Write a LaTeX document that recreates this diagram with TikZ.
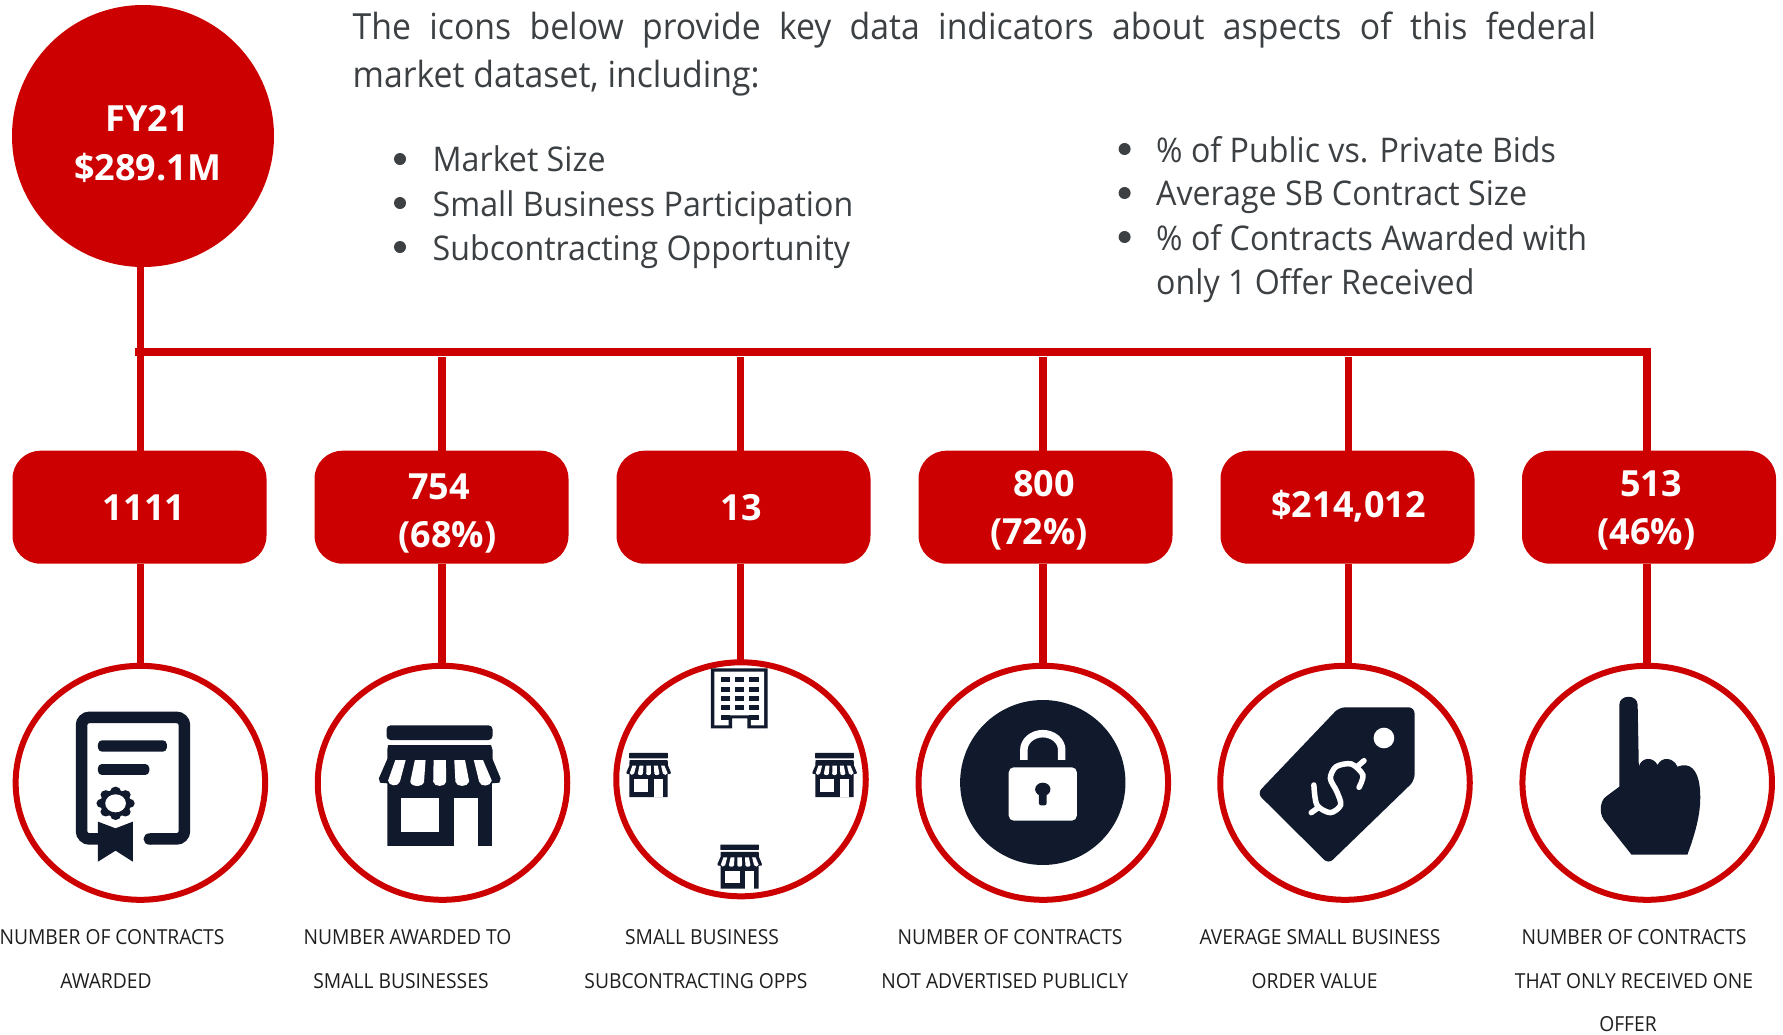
\documentclass[tikz,border=0pt]{standalone}
\usepackage{fontspec}
\setmainfont{Open Sans}
\newfontfamily\capfont[FakeStretch=0.93]{Open Sans}
\newfontfamily\bodyfont[FakeStretch=0.946]{Open Sans}
\newfontfamily\headfont[FakeStretch=0.938]{Open Sans}
\newfontfamily\numfont[FakeStretch=1.0]{Open Sans Bold}
\usetikzlibrary{shapes.geometric}
\definecolor{brandred}{HTML}{CC0000}
\definecolor{ink}{HTML}{111A2C}
\definecolor{bodytext}{HTML}{3C4043}
\definecolor{captext}{HTML}{1E1E1E}
\tikzset{
  conn/.style={draw=brandred,line width=7.5pt},
  bigcircle/.style={circle,fill=brandred,minimum size=262pt,inner sep=0pt,outer sep=0pt},
  valuebox/.style={rectangle,rounded corners=28pt,fill=brandred,minimum width=254pt,minimum height=113pt,inner sep=0pt,outer sep=0pt},
  iconring/.style={ellipse,draw=brandred,fill=white,line width=6pt,minimum width=249.5pt,minimum height=234pt,inner sep=0pt,outer sep=0pt},
  numtext/.style={anchor=base,text=white,font=\numfont\fontsize{36}{42}\selectfont,inner sep=0pt},
  captext/.style={anchor=base,text=captext,font=\capfont\fontsize{20.7}{24}\selectfont,inner sep=0pt},
  listtext/.style={anchor=base west,text=bodytext,font=\bodyfont\fontsize{34}{40}\selectfont,inner sep=0pt},
  headtext/.style={anchor=base west,text=bodytext,font=\headfont\fontsize{36}{42}\selectfont,inner sep=0pt},
  bulletdot/.style={circle,fill=bodytext,minimum size=12pt,inner sep=0pt,outer sep=0pt},
  zoomcrop/.style={shift={(#1,650)},xscale=0.3827,yscale=0.3333}
}
\newcommand{\storeicon}[4]{%
  \begin{scope}[shift={(#1,#2)},xscale=#3,yscale=#3,shift={(-1149,-407)}]
    \fill[ink,rounded corners=#4] (1010,226) rectangle (1287,270);
    \fill[ink] (1014,285) -- (1283,285) -- (1287,300) -- (1287,327) -- (1308,385) -- (1305,398) -- (1285,400) -- (1285,588) -- (1012,588) -- (1012,400) -- (993,398) -- (990,385) -- (1012,327) -- (1012,300) -- cycle;
    \fill[white] (1033,330) -- (1060,330) -- (1045,395) .. controls (1040,412) and (1015,408) .. (1014,392) -- cycle;
    \fill[white] (1084,330) -- (1112,330) -- (1108,395) .. controls (1106,412) and (1074,412) .. (1072,395) -- cycle;
    \fill[white] (1133,330) -- (1165,330) -- (1166,395) .. controls (1164,412) and (1134,412) .. (1132,395) -- cycle;
    \fill[white] (1187,330) -- (1215,330) -- (1226,395) .. controls (1222,412) and (1192,412) .. (1190,395) -- cycle;
    \fill[white] (1238,330) -- (1262,330) -- (1285,392) .. controls (1282,410) and (1256,412) .. (1252,395) -- cycle;
    \fill[white] (1047,443) rectangle (1148,545);
    \fill[white] (1185,443) rectangle (1250,590);
  \end{scope}}
\begin{document}
\begin{tikzpicture}[x=1pt,y=-1pt]
\useasboundingbox (0,0) rectangle (1783,1034);

% named junctions on the bar
\coordinate (barL) at (135,352);
\coordinate (d1) at (140.5,352);
\coordinate (d2) at (442.2,352);
\coordinate (d3) at (740.7,352);
\coordinate (d4) at (1042.8,352);
\coordinate (d5) at (1348.3,352);
\coordinate (d6) at (1646.8,352);
\coordinate (d3low) at (740.7,665);

% shapes
\node[bigcircle] (fy) at (143,136) {};
\node[valuebox] (b1) at (139.5,507.2) {};
\node[valuebox] (b2) at (441.5,507.2) {};
\node[valuebox] (b3) at (743.5,507.2) {};
\node[valuebox] (b4) at (1045.5,507.2) {};
\node[valuebox] (b5) at (1347.5,507.2) {};
\node[valuebox] (b6) at (1649,507.2) {};
\node[iconring] (r1) at (140.4,782.8) {};
\node[iconring] (r2) at (442.5,782.8) {};
\node[iconring] (r3) at (741,779.3) {};
\node[iconring] (r4) at (1043.3,782.8) {};
\node[iconring] (r5) at (1345,782.8) {};
\node[iconring] (r6) at (1647.2,782.8) {};

% connectors
\draw[conn] (fy.south -| d1) -- (b1.north -| d1);
\draw[conn] (barL) -- (d6) -- (b6.north -| d6);
\foreach \n in {2,3,4,5}{\draw[conn] ([yshift=-5pt]d\n) -- (b\n.north -| d\n);}
\foreach \n in {1,2,4,5,6}{\draw[conn] (b\n.south -| d\n) -- (r\n.north -| d\n);}
\draw[conn] (b3.south -| d3) -- (d3low);

% big circle + box values
\node[numtext] (t-fy) at (147,131) {FY21};
\node[numtext] (t-val) at (147.5,180) {\$289.1M};
\node[numtext] (t1) at (144,520.5) {1111};
\node[numtext] (t2a) at (439,499.5) {754};
\node[numtext] (t2b) at (447.5,547) {(68\%)};
\node[numtext] (t3) at (741,520.5) {13};
\node[numtext] (t4a) at (1044,496) {800};
\node[numtext] (t4b) at (1039,544.5) {(72\%)};
\node[numtext] (t5) at (1348.5,517) {\$214,012};
\node[numtext] (t6a) at (1651,496) {513};
\node[numtext] (t6b) at (1646.5,544.5) {(46\%)};

% heading
\node[headtext] (intro1) at (352.5,39) {\makebox[1243.5pt][s]{The icons below provide key data indicators about aspects of this federal}};
\node[headtext] (intro2) at (352.5,87) {market dataset, including:};

% lists
\node[bulletdot] (bl1) at (400,159) {};
\node[bulletdot] (bl2) at (400,203) {};
\node[bulletdot] (bl3) at (400,247) {};
\node[listtext] (l1) at (432.5,171.5) {Market Size};
\node[listtext] (l2) at (432.5,216) {Small Business Participation};
\node[listtext] (l3) at (432.5,260) {Subcontracting Opportunity};
\node[bulletdot] (br1) at (1124.6,149) {};
\node[bulletdot] (br2) at (1124.6,193) {};
\node[bulletdot] (br3) at (1124.6,237) {};
\node[listtext] (r-1) at (1156,162) {\% of Public vs. Private Bids};
\node[listtext] (r-2) at (1156,205.8) {Average SB Contract Size};
\node[listtext] (r-3) at (1156,250.2) {\% of Contracts Awarded with};
\node[listtext] (r-4) at (1156,294.6) {only 1 Offer Received};

% captions
\node[captext] (c1a) at (112,944) {NUMBER OF CONTRACTS};
\node[captext] (c1b) at (106,988) {AWARDED};
\node[captext] (c2a) at (407.5,944) {NUMBER AWARDED TO};
\node[captext] (c2b) at (401,988) {SMALL BUSINESSES};
\node[captext] (c3a) at (702,944) {SMALL BUSINESS};
\node[captext] (c3b) at (696,988) {SUBCONTRACTING OPPS};
\node[captext] (c4a) at (1010,944) {NUMBER OF CONTRACTS};
\node[captext] (c4b) at (1004.8,988) {NOT ADVERTISED PUBLICLY};
\node[captext] (c5a) at (1320,944) {AVERAGE SMALL BUSINESS};
\node[captext] (c5b) at (1314.7,988) {ORDER VALUE};
\node[captext] (c6a) at (1634,944) {NUMBER OF CONTRACTS};
\node[captext] (c6b) at (1634,988) {THAT ONLY RECEIVED ONE};
\node[captext] (c6c) at (1628,1031) {OFFER};

% --- certificate and large store (crop origin x=0)
\begin{scope}[zoomcrop=0]
  \draw[ink,line width=11.5pt,rounded corners=8pt] (262,567) -- (213,567) -- (213,202) -- (482,202) -- (482,567) -- (392,567);
  \fill[ink] (390,567) circle [x radius=15,y radius=17];
  \fill[ink,rounded corners=4pt] (256,271) rectangle (436,305);
  \fill[ink,rounded corners=4pt] (256,342) rectangle (390,375);
  \fill[ink] (256,515) -- (302,535) -- (347,515) -- (347,635) -- (302,602) -- (256,635) -- cycle;
  \fill[white] (302,460) circle [x radius=58,y radius=64];
  \foreach \a in {0,45,...,315}{\fill[ink] (302,460) ++(\a:36) circle [radius=14];}
  \fill[ink] (302,460) circle [radius=40];
  \fill[white] (302,460) circle [radius=27];
  \storeicon{1149}{407}{1}{4pt}
\end{scope}

% --- building and small stores (crop origin x=600)
\begin{scope}[zoomcrop=600]
  \fill[ink] (290,55) -- (438,55) -- (438,235) -- (385,235) -- (385,205) -- (345,205) -- (345,235) -- (290,235) -- cycle;
  \fill[white] (299,65) -- (429,65) -- (429,226) -- (394,226) -- (394,196) -- (336,196) -- (336,226) -- (299,226) -- cycle;
  \foreach \yy in {82,110,138,166}{
    \foreach \xx in {315,352,390}{\fill[ink] (\xx,\yy) rectangle +(25,15);}}
  \fill[ink] (315,194) rectangle +(25,15);
  \fill[ink] (390,194) rectangle +(25,15);
  \storeicon{127}{375}{0.365}{0.5pt}
  \storeicon{613}{375}{0.365}{0.5pt}
  \storeicon{365}{650}{0.365}{0.5pt}
  % lock
  \fill[ink] (1157,397.5) circle [x radius=216,y radius=247.5];
  \draw[white,line width=7.5pt] (1107.5,340) -- (1107.5,300) arc [start angle=180,end angle=360,x radius=49.5,y radius=49] -- (1206.5,340);
  \fill[white,rounded corners=5pt] (1068,352) rectangle (1246,512);
  \fill[ink] (1157,330) rectangle (1090,351);
  \fill[ink] (1157,330) rectangle (1224,351);
  \fill[ink] (1157,418) circle [x radius=20,y radius=20];
  \fill[ink,rounded corners=2pt] (1147,420) rectangle (1167,466);
\end{scope}

% --- tag and hand (crop origin x=1183)
\begin{scope}[zoomcrop=1183]
  \fill[ink,rounded corners=6pt] (408,172) -- (605,172) -- (605,392) -- (380,642) -- (194,430) -- cycle;
  \fill[white] (525,264) circle [x radius=27,y radius=31];
  \draw[white,line width=5.5pt,line cap=round] plot[smooth] coordinates {(460,412) (470,375) (440,342) (400,350) (385,385) (402,425) (412,465) (385,488) (350,465) (342,405)};
  \draw[white,line width=5.5pt,line cap=round] (455,350) -- (473,332);
  \draw[white,line width=5.5pt,line cap=round] (355,472) -- (335,488);
  \fill[ink] (1140,410) -- (1140,165) .. controls (1140,132) and (1188,132) .. (1188,165) -- (1191,350)
    .. controls (1197,322) and (1228,318) .. (1240,345)
    .. controls (1250,320) and (1280,320) .. (1292,350)
    .. controls (1325,335) and (1345,360) .. (1350,410)
    .. controls (1356,470) and (1345,530) .. (1318,614)
    -- (1172,614) -- (1100,510)
    .. controls (1085,485) and (1092,450) .. (1105,440) -- cycle;
\end{scope}
\end{tikzpicture}
\end{document}
